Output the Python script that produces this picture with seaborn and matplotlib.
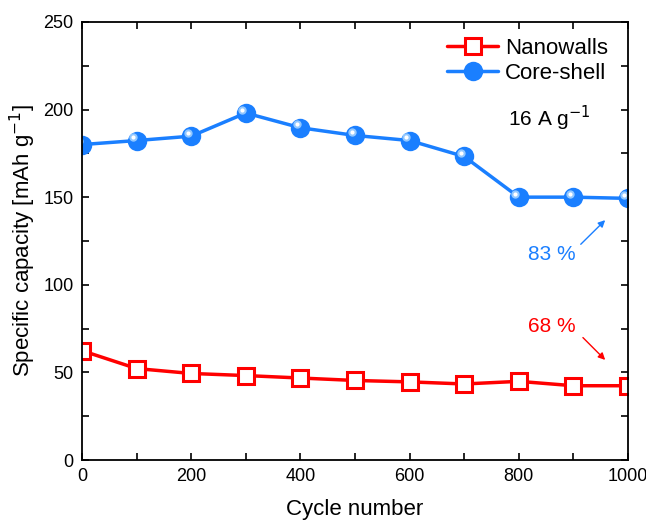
import numpy as np
import pandas as pd
import matplotlib
matplotlib.use("Agg")
import matplotlib.pyplot as plt
import matplotlib.transforms as mtransforms
import seaborn as sns

# cycle data
cycles = [0, 100, 200, 300, 400, 500, 600, 700, 800, 900, 1000]
nanowalls = [62.4, 52.2, 49.4, 48.2, 46.8, 45.4, 44.6, 43.4, 44.9, 42.4, 42.4]
core_shell = [180.0, 182.3, 184.8, 198.0, 189.6, 185.2, 182.3, 173.2, 150.0, 150.0, 149.3]

df = pd.DataFrame({"cycle": cycles, "Nanowalls": nanowalls, "Core-shell": core_shell})

sns.set_theme(style="ticks")
plt.rcParams['font.family'] = ['Liberation Sans', 'DejaVu Sans']
plt.rcParams['text.color'] = 'black'
plt.rcParams['axes.labelcolor'] = 'black'
plt.rcParams['xtick.color'] = 'black'
plt.rcParams['ytick.color'] = 'black'

red = "#ff0000"
blue = "#1a7fff"

fig = plt.figure(figsize=(6.46, 5.21), dpi=100)
ax = fig.add_axes([0.127, 0.117, 0.845, 0.841])

sns.lineplot(data=df, x="cycle", y="Nanowalls", ax=ax, color=red, lw=2.5,
             marker="s", markersize=12, markerfacecolor="white",
             markeredgecolor=red, markeredgewidth=2.2, label="Nanowalls")
sns.lineplot(data=df, x="cycle", y="Core-shell", ax=ax, color=blue, lw=2.5,
             marker="o", markersize=14, markerfacecolor=blue,
             markeredgecolor=blue, markeredgewidth=0, label="Core-shell")

# highlight on the balls
shine = mtransforms.offset_copy(ax.transData, fig=fig, x=-2.5, y=2.5, units="points")
ax.plot(df["cycle"], df["Core-shell"], ls="none", marker="o", markersize=6,
        color="#9fd0ff", mew=0, transform=shine, alpha=0.9)
ax.plot(df["cycle"], df["Core-shell"], ls="none", marker="o", markersize=3,
        color="white", mew=0, transform=shine)

ax.set_xlim(0, 1000)
ax.set_ylim(0, 250)
ax.set_xticks(np.arange(0, 1001, 200))
ax.set_xticks(np.arange(100, 1000, 200), minor=True)
ax.set_yticks(np.arange(0, 251, 50))
ax.set_yticks(np.arange(25, 250, 50), minor=True)
ax.tick_params(which="both", direction="in", top=True, right=True, length=5,
               width=1.2, labelsize=13, pad=6)
for s in ax.spines.values():
    s.set_linewidth(1.3)
    s.set_color("black")

ax.set_xlabel("Cycle number", fontsize=16, labelpad=10)
ax.set_ylabel("Specific capacity [mAh g$^{-1}$]", fontsize=16, labelpad=4)

leg = ax.legend(loc="upper right", frameon=False, fontsize=16, handlelength=2.3,
                borderaxespad=0.5, handletextpad=0.3, labelspacing=0.2,
                bbox_to_anchor=(1.0, 1.01))

ax.text(780, 195, "16 A g$^{-1}$", fontsize=15, va="center", ha="left")

ax.text(860, 117, "83 %", color=blue, fontsize=15, ha="center", va="center")
ax.annotate("", xy=(962, 138), xytext=(910, 122),
            arrowprops=dict(arrowstyle="-|>", color=blue, lw=1, mutation_scale=10))
ax.text(860, 76, "68 %", color=red, fontsize=15, ha="center", va="center")
ax.annotate("", xy=(962, 56), xytext=(914, 71),
            arrowprops=dict(arrowstyle="-|>", color=red, lw=1, mutation_scale=10))

plt.savefig("out.png", dpi=100)
